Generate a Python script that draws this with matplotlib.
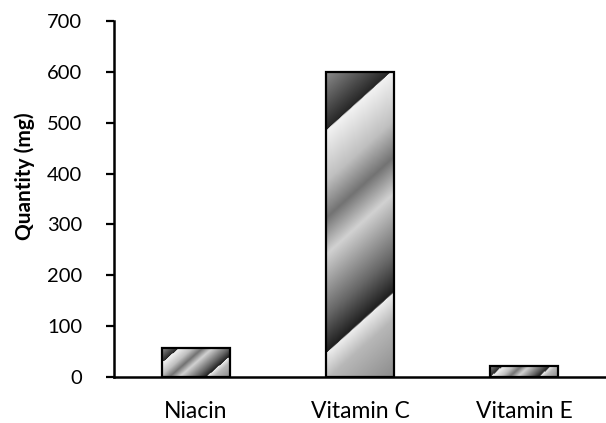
import numpy as np
import matplotlib
matplotlib.use("Agg")
import matplotlib.pyplot as plt

categories = ["Niacin", "Vitamin C", "Vitamin E"]
quantities = [57, 600, 22]
yticks = [0, 100, 200, 300, 400, 500, 600, 700]

# gradient profile along the bar diagonal (0 = bottom-right, 1 = top-left)
stops_t = [0.0, 0.157, 0.229, 0.231, 0.33, 0.42, 0.50, 0.60, 0.70, 0.839, 0.841, 1.0]
stops_g = [0.55, 0.72, 0.93, 0.12, 0.40, 0.62, 0.82, 0.45, 0.75, 0.95, 0.15, 0.55]

plt.rcParams["font.family"] = ["Lato", "DejaVu Sans"]

fig = plt.figure(figsize=(6.06, 4.23), dpi=100)
ax = fig.add_axes([114 / 606, 46 / 423, 492 / 606, 356 / 423])

width = 0.41
x = np.arange(len(categories))
ax.set_xlim(-0.5, 2.5)
ax.set_ylim(0, 700)

bars = ax.bar(x, quantities, width, facecolor="none", edgecolor="black", linewidth=1.6, zorder=3)

fig.canvas.draw()
for b in bars:
    x0, y0 = b.get_x(), b.get_y()
    x1, y1 = x0 + b.get_width(), y0 + b.get_height()
    (px0, py0), (px1, py1) = ax.transData.transform([(x0, y0), (x1, y1)])
    W = max(int(round(px1 - px0)), 2)
    H = max(int(round(py1 - py0)), 2)
    u = np.linspace(0, 1, W)[None, :]
    w = np.linspace(1, 0, H)[:, None]   # row 0 = top
    m = 0.9
    t = (w * H + (1 - u) * W * m) / (H + W * m)
    g = np.interp(t, stops_t, stops_g)
    ax.imshow(g, cmap="gray", vmin=0, vmax=1, extent=(x0, x1, y0, y1),
              aspect="auto", interpolation="bilinear", zorder=2)

ax.set_xlim(-0.5, 2.5)
ax.set_ylim(0, 700)
ax.set_xticks(x)
ax.set_xticklabels(categories, fontsize=16.5)
ax.set_yticks(yticks)
ax.tick_params(axis="x", length=0, pad=17)
ax.tick_params(axis="y", length=6, width=1.6, direction="out", pad=17, labelsize=14.5)
for s in ["top", "right"]:
    ax.spines[s].set_visible(False)
for s in ["left", "bottom"]:
    ax.spines[s].set_linewidth(1.8)
ax.set_ylabel("Quantity (mg)", fontsize=15, fontweight="bold")
ax.yaxis.set_label_coords(-0.16, 0.565)

fig.savefig("out.png", dpi=100)
